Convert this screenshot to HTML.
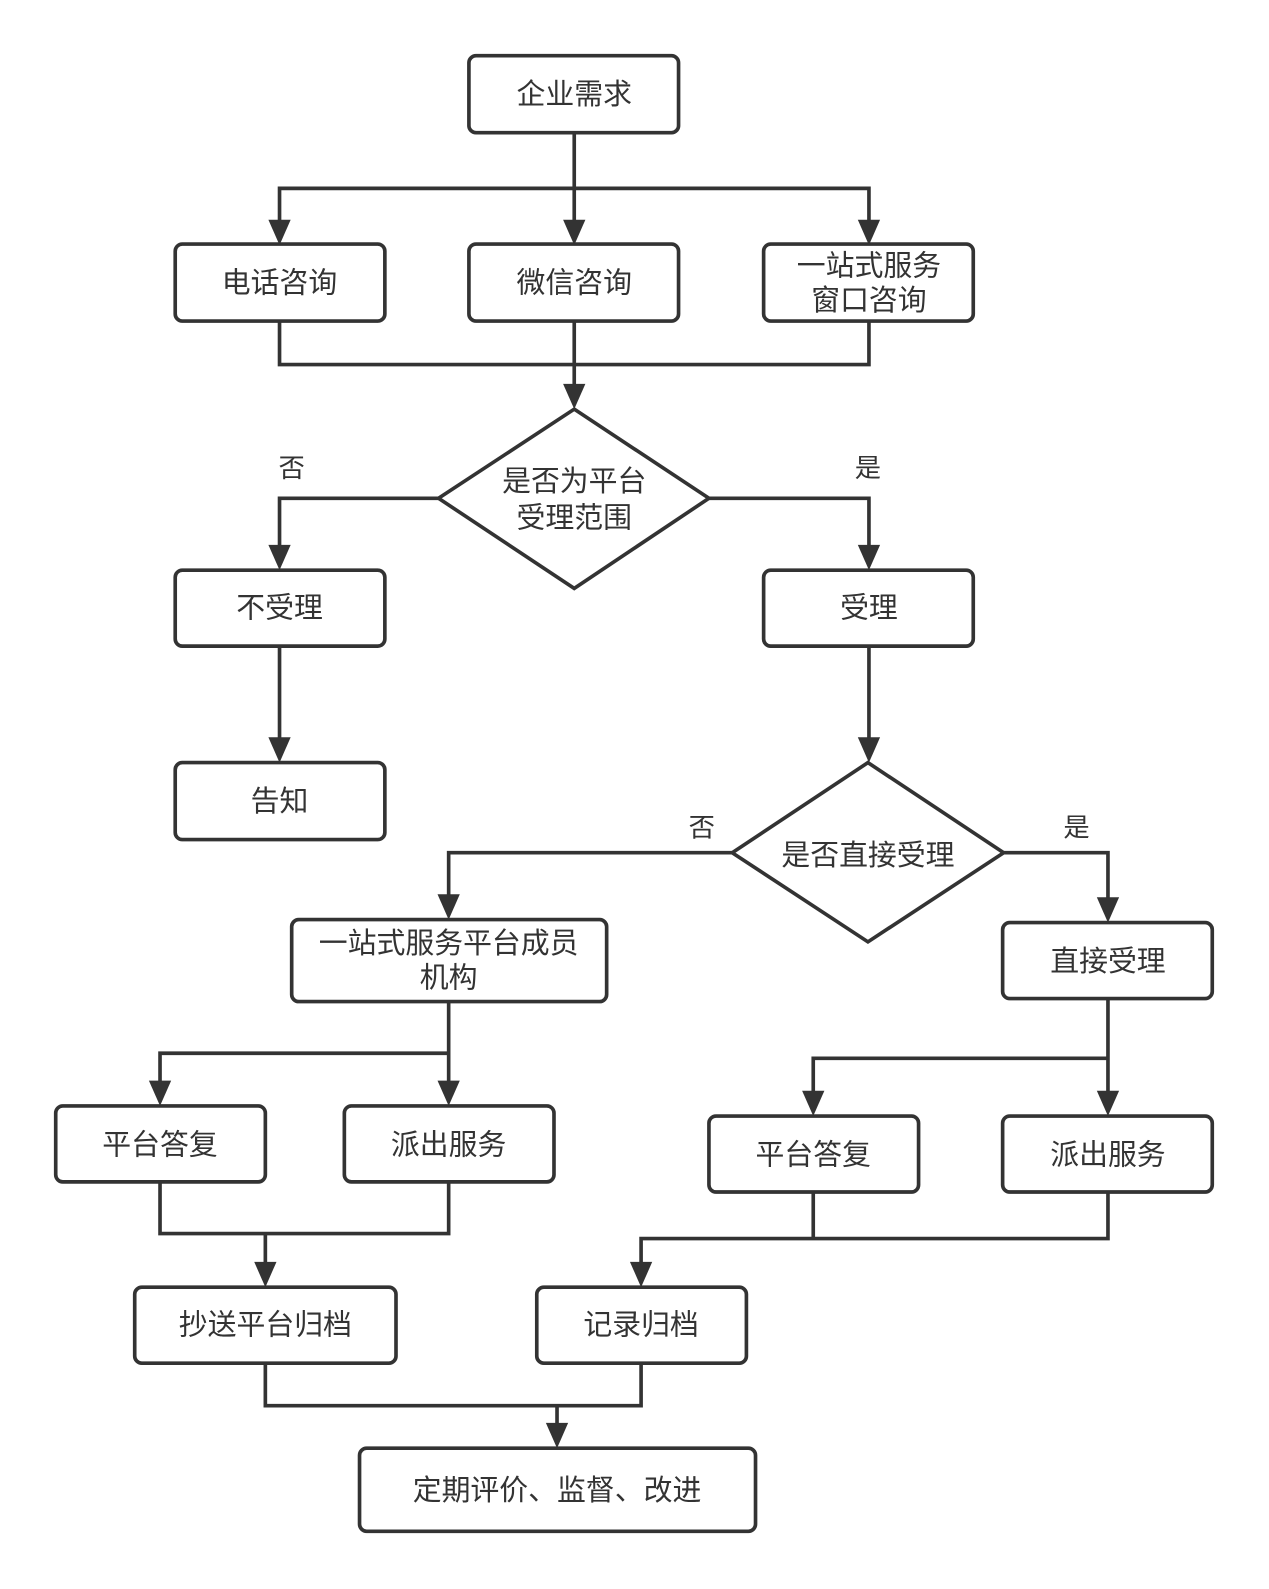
<!DOCTYPE html>
<html><head><meta charset="utf-8"><style>
html,body{margin:0;padding:0;background:#fff;}
svg{display:block;}
text{font-family:"Liberation Sans","Noto Sans CJK SC",sans-serif;fill:#333;font-size:28.5px;text-anchor:middle;dominant-baseline:central;}
.b{fill:#fff;stroke:#333;stroke-width:3.6;}
.l{fill:none;stroke:#333;stroke-width:3.6;}
.a{fill:#333;}
</style></head><body>
<svg width="1269" height="1589" viewBox="0 0 1253 1569" xmlns="http://www.w3.org/2000/svg">
<defs><polygon id="ar" points="-11,-25 11,-25 0,0" class="a"/></defs>
<g class="l">
<path d="M567,131V232"/>
<path d="M276,232V186H858V232"/>
<path d="M276,317V360H858V317M567,317V394"/>
<path d="M433,492H276V553M700,492H858V553"/>
<path d="M276,638V743M858,638V743"/>
<path d="M723,842H443V898M991,842H1094V901"/>
<path d="M443,989V1082M443,1040H158V1082"/>
<path d="M1094,986V1092M1094,1045H803V1092"/>
<path d="M158,1167V1218H443V1167M262,1218V1261"/>
<path d="M803,1177V1223H1094V1177M803,1223H633V1261"/>
<path d="M262,1346V1388H633V1346M550,1388V1420"/>
</g>
<g>
<use href="#ar" x="567" y="242"/><use href="#ar" x="276" y="242"/><use href="#ar" x="858" y="242"/>
<use href="#ar" x="567" y="404"/>
<use href="#ar" x="276" y="563"/><use href="#ar" x="858" y="563"/>
<use href="#ar" x="276" y="753"/><use href="#ar" x="858" y="753"/>
<use href="#ar" x="443" y="908"/><use href="#ar" x="1094" y="911"/>
<use href="#ar" x="443" y="1092"/><use href="#ar" x="158" y="1092"/>
<use href="#ar" x="1094" y="1102"/><use href="#ar" x="803" y="1102"/>
<use href="#ar" x="262" y="1271"/><use href="#ar" x="633" y="1271"/>
<use href="#ar" x="550" y="1430"/>
</g>
<rect class="b" x="463" y="55" width="207" height="76" rx="7"/><text x="567" y="94">企业需求</text>
<rect class="b" x="173" y="241" width="207" height="76" rx="7"/><text x="276" y="280">电话咨询</text>
<rect class="b" x="463" y="241" width="207" height="76" rx="7"/><text x="567" y="280">微信咨询</text>
<rect class="b" x="754" y="241" width="207" height="76" rx="7"/><text x="858" y="263">一站式服务</text><text x="858" y="297">窗口咨询</text>
<polygon class="b" points="567,404 700,492 567,581 433,492"/><text x="567" y="476">是否为平台</text><text x="567" y="512">受理范围</text>
<text x="288" y="462" style="font-size:26px">否</text><text x="857" y="462" style="font-size:26px">是</text>
<rect class="b" x="173" y="563" width="207" height="75" rx="7"/><text x="276" y="601">不受理</text>
<rect class="b" x="754" y="563" width="207" height="75" rx="7"/><text x="858" y="601">受理</text>
<rect class="b" x="173" y="753" width="207" height="76" rx="7"/><text x="276" y="792">告知</text>
<polygon class="b" points="857,753 991,842 857,930 723,842"/><text x="857" y="845">是否直接受理</text>
<text x="693" y="817" style="font-size:26px">否</text><text x="1063" y="817" style="font-size:26px">是</text>
<rect class="b" x="288" y="908" width="311" height="81" rx="7"/><text x="443" y="932">一站式服务平台成员</text><text x="443" y="966">机构</text>
<rect class="b" x="990" y="911" width="207" height="75" rx="7"/><text x="1094" y="950">直接受理</text>
<rect class="b" x="55" y="1092" width="207" height="75" rx="7"/><text x="158" y="1131">平台答复</text>
<rect class="b" x="340" y="1092" width="207" height="75" rx="7"/><text x="443" y="1131">派出服务</text>
<rect class="b" x="700" y="1102" width="207" height="75" rx="7"/><text x="803" y="1141">平台答复</text>
<rect class="b" x="990" y="1102" width="207" height="75" rx="7"/><text x="1094" y="1141">派出服务</text>
<rect class="b" x="133" y="1271" width="258" height="75" rx="7"/><text x="262" y="1309">抄送平台归档</text>
<rect class="b" x="530" y="1271" width="207" height="75" rx="7"/><text x="633" y="1309">记录归档</text>
<rect class="b" x="355" y="1430" width="391" height="82" rx="7"/><text x="550" y="1472">定期评价、监督、改进</text>
</svg>
</body></html>
